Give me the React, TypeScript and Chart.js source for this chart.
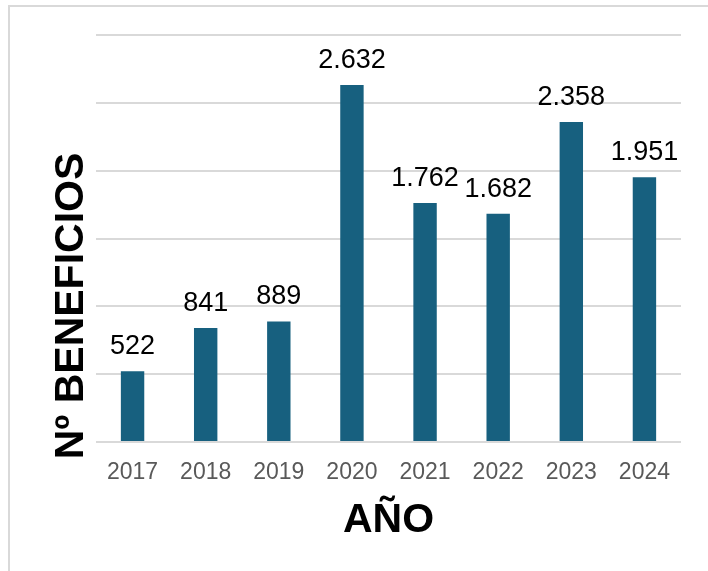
import React, { useEffect, useRef } from "react";
import { Chart, registerables } from "chart.js";

Chart.register(...registerables);

const categories = ["2017", "2018", "2019", "2020", "2021", "2022", "2023", "2024"];
const beneficios = [522, 841, 889, 2632, 1762, 1682, 2358, 1951];
const yMin = 0;
const yMax = 3000;
const yStep = 500;
const xTitle = "AÑO";
const yTitle = "Nº BENEFICIOS";

const FONT = '"Liberation Sans", Arial, sans-serif';

function fmt(v: number): string {
  return String(v).replace(/\B(?=(\d{3})+(?!\d))/g, ".");
}

const labelPlugin = {
  id: "valueLabels",
  afterDatasetsDraw(chart: any) {
    const ctx = chart.ctx;
    const meta = chart.getDatasetMeta(0);
    ctx.save();
    ctx.fillStyle = "#000000";
    ctx.font = `27px ${FONT}`;
    ctx.textAlign = "center";
    ctx.textBaseline = "alphabetic";
    meta.data.forEach((bar: any, i: number) => {
      const v = chart.data.datasets[0].data[i] as number;
      ctx.fillText(fmt(v), bar.x, bar.y - 17);
    });
    ctx.restore();
  },
};

const titlePlugin = {
  id: "axisTitles",
  afterDraw(chart: any) {
    const ctx = chart.ctx;
    const area = chart.chartArea;
    ctx.save();
    ctx.fillStyle = "#000000";
    ctx.font = `bold 41px ${FONT}`;
    ctx.textAlign = "center";
    ctx.textBaseline = "alphabetic";
    ctx.fillText(xTitle, (area.left + area.right) / 2, 532);
    ctx.translate(83, 306);
    ctx.rotate(-Math.PI / 2);
    ctx.font = `bold 41px ${FONT}`;
    ctx.fillText(yTitle, 0, 0);
    ctx.restore();
  },
};

export default function App() {
  const ref = useRef<HTMLCanvasElement | null>(null);

  useEffect(() => {
    if (!ref.current) return;
    const chart = new Chart(ref.current, {
      type: "bar",
      data: {
        labels: categories,
        datasets: [
          {
            data: beneficios,
            backgroundColor: "#17607f",
            borderWidth: 0,
            barPercentage: 0.32,
            categoryPercentage: 1,
          },
        ],
      },
      options: {
        responsive: false,
        animation: false,
        devicePixelRatio: 1,
        layout: { padding: { left: 0, right: 27, top: 35, bottom: 0 } },
        plugins: {
          legend: { display: false },
          tooltip: { enabled: false },
        },
        scales: {
          x: {
            grid: { display: false, drawTicks: false },
            border: { display: false },
            ticks: {
              color: "#595959",
              font: { family: FONT, size: 23 },
              padding: 17,
              maxRotation: 0,
            },
            afterFit(scale: any) {
              scale.height = 129;
            },
          },
          y: {
            min: yMin,
            max: yMax,
            ticks: { display: false, stepSize: yStep },
            grid: { color: "#d9d9d9", lineWidth: 2, drawTicks: false },
            border: { display: false },
            afterFit(scale: any) {
              scale.width = 96;
            },
          },
        },
      },
      plugins: [labelPlugin, titlePlugin],
    });
    return () => chart.destroy();
  }, []);

  return (
    <div style={{ position: "absolute", left: 0, top: 0, width: 708, height: 571, overflow: "hidden", background: "#ffffff" }}>
      <div
        style={{
          position: "absolute",
          left: 8,
          top: 5,
          width: 800,
          height: 700,
          border: "2px solid #d9d9d9",
          boxSizing: "border-box",
        }}
      />
      <canvas ref={ref} width={708} height={571} style={{ position: "absolute", left: 0, top: 0, width: 708, height: 571 }} />
    </div>
  );
}
